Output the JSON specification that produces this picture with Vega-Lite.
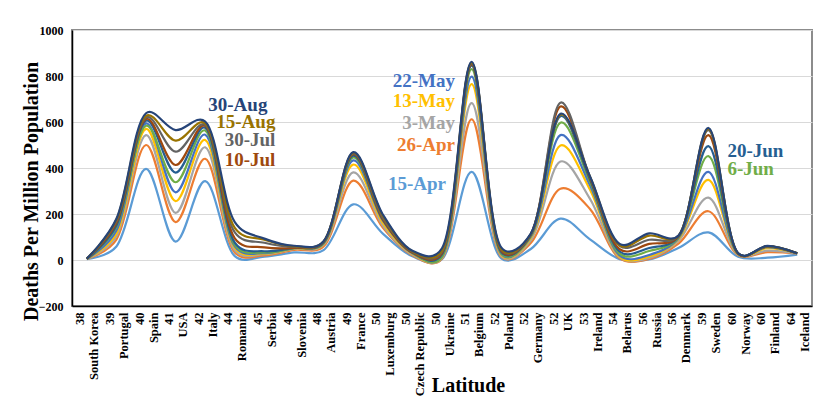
{
  "$schema": "https://vega.github.io/schema/vega-lite/v6.json",
  "width": 740,
  "height": 276,
  "autosize": {"type": "none"},
  "padding": {"left": 72, "top": 30, "right": 1, "bottom": 94},
  "background": "white",
  "config": {"view": {"stroke": "#8c8c8c", "strokeWidth": 2}, "font": "Liberation Serif"},
  "datasets": {
    "main": [
      {"c": "38|South Korea", "15-Apr": 4, "26-Apr": 5, "3-May": 5, "13-May": 5, "22-May": 5, "6-Jun": 5, "20-Jun": 5, "10-Jul": 6, "30-Jul": 6, "15-Aug": 6, "30-Aug": 6},
      {"c": "39|Portugal", "15-Apr": 59, "26-Apr": 89, "3-May": 104, "13-May": 115, "22-May": 128, "6-Jun": 144, "20-Jun": 150, "10-Jul": 161, "30-Jul": 169, "15-Aug": 175, "30-Aug": 179},
      {"c": "40|Spain", "15-Apr": 396, "26-Apr": 500, "3-May": 543, "13-May": 570, "22-May": 594, "6-Jun": 584, "20-Jun": 606, "10-Jul": 613, "30-Jul": 620, "15-Aug": 627, "30-Aug": 638},
      {"c": "41|USA", "15-Apr": 80, "26-Apr": 165, "3-May": 205, "13-May": 256, "22-May": 294, "6-Jun": 338, "20-Jun": 380, "10-Jul": 413, "30-Jul": 471, "15-Aug": 519, "30-Aug": 565},
      {"c": "42|Italy", "15-Apr": 343, "26-Apr": 440, "3-May": 490, "13-May": 522, "22-May": 545, "6-Jun": 563, "20-Jun": 575, "10-Jul": 583, "30-Jul": 588, "15-Aug": 594, "30-Aug": 602},
      {"c": "44|Romania", "15-Apr": 17, "26-Apr": 33, "3-May": 42, "13-May": 52, "22-May": 59, "6-Jun": 66, "20-Jun": 75, "10-Jul": 94, "30-Jul": 120, "15-Aug": 140, "30-Aug": 165},
      {"c": "45|Serbia", "15-Apr": 15, "26-Apr": 20, "3-May": 25, "13-May": 28, "22-May": 30, "6-Jun": 33, "20-Jun": 38, "10-Jul": 55, "30-Jul": 75, "15-Aug": 88, "30-Aug": 93},
      {"c": "46|Slovenia", "15-Apr": 33, "26-Apr": 44, "3-May": 48, "13-May": 50, "22-May": 52, "6-Jun": 52, "20-Jun": 53, "10-Jul": 53, "30-Jul": 58, "15-Aug": 60, "30-Aug": 62},
      {"c": "48|Austria", "15-Apr": 43, "26-Apr": 59, "3-May": 66, "13-May": 70, "22-May": 72, "6-Jun": 74, "20-Jun": 76, "10-Jul": 78, "30-Jul": 79, "15-Aug": 81, "30-Aug": 82},
      {"c": "49|France", "15-Apr": 242, "26-Apr": 345, "3-May": 381, "13-May": 415, "22-May": 433, "6-Jun": 446, "20-Jun": 454, "10-Jul": 460, "30-Jul": 463, "15-Aug": 466, "30-Aug": 469},
      {"c": "50|Luxemburg", "15-Apr": 115, "26-Apr": 141, "3-May": 150, "13-May": 161, "22-May": 172, "6-Jun": 176, "20-Jun": 177, "10-Jul": 178, "30-Jul": 184, "15-Aug": 193, "30-Aug": 198},
      {"c": "50|Czech Republic", "15-Apr": 16, "26-Apr": 21, "3-May": 24, "13-May": 27, "22-May": 29, "6-Jun": 31, "20-Jun": 32, "10-Jul": 33, "30-Jul": 36, "15-Aug": 38, "30-Aug": 40},
      {"c": "50|Ukraine", "15-Apr": 3, "26-Apr": 6, "3-May": 9, "13-May": 12, "22-May": 14, "6-Jun": 15, "20-Jun": 24, "10-Jul": 30, "30-Jul": 36, "15-Aug": 42, "30-Aug": 51},
      {"c": "51|Belgium", "15-Apr": 383, "26-Apr": 612, "3-May": 682, "13-May": 765, "22-May": 797, "6-Jun": 830, "20-Jun": 845, "10-Jul": 850, "30-Jul": 855, "15-Aug": 858, "30-Aug": 862},
      {"c": "52|Poland", "15-Apr": 7, "26-Apr": 15, "3-May": 18, "13-May": 23, "22-May": 27, "6-Jun": 30, "20-Jun": 35, "10-Jul": 40, "30-Jul": 45, "15-Aug": 49, "30-Aug": 55},
      {"c": "52|Germany", "15-Apr": 48, "26-Apr": 74, "3-May": 85, "13-May": 95, "22-May": 101, "6-Jun": 106, "20-Jun": 109, "10-Jul": 111, "30-Jul": 112, "15-Aug": 113, "30-Aug": 115},
      {"c": "52|UK", "15-Apr": 180, "26-Apr": 310, "3-May": 428, "13-May": 498, "22-May": 543, "6-Jun": 597, "20-Jun": 625, "10-Jul": 667, "30-Jul": 684, "15-Aug": 632, "30-Aug": 636},
      {"c": "53|Ireland", "15-Apr": 90, "26-Apr": 222, "3-May": 266, "13-May": 306, "22-May": 325, "6-Jun": 340, "20-Jun": 350, "10-Jul": 356, "30-Jul": 360, "15-Aug": 362, "30-Aug": 363},
      {"c": "54|Belarus", "15-Apr": 4, "26-Apr": 7, "3-May": 11, "13-May": 15, "22-May": 20, "6-Jun": 28, "20-Jun": 37, "10-Jul": 47, "30-Jul": 61, "15-Aug": 64, "30-Aug": 70},
      {"c": "56|Russia", "15-Apr": 2, "26-Apr": 5, "3-May": 9, "13-May": 15, "22-May": 22, "6-Jun": 39, "20-Jun": 52, "10-Jul": 70, "30-Jul": 88, "15-Aug": 106, "30-Aug": 116},
      {"c": "56|Denmark", "15-Apr": 53, "26-Apr": 72, "3-May": 85, "13-May": 92, "22-May": 97, "6-Jun": 101, "20-Jun": 104, "10-Jul": 105, "30-Jul": 106, "15-Aug": 107, "30-Aug": 108},
      {"c": "59|Sweden", "15-Apr": 120, "26-Apr": 212, "3-May": 271, "13-May": 348, "22-May": 383, "6-Jun": 452, "20-Jun": 495, "10-Jul": 543, "30-Jul": 565, "15-Aug": 570, "30-Aug": 574},
      {"c": "60|Norway", "15-Apr": 14, "26-Apr": 22, "3-May": 24, "13-May": 26, "22-May": 27, "6-Jun": 27, "20-Jun": 28, "10-Jul": 28, "30-Jul": 29, "15-Aug": 29, "30-Aug": 30},
      {"c": "60|Finland", "15-Apr": 10, "26-Apr": 34, "3-May": 41, "13-May": 51, "22-May": 56, "6-Jun": 58, "20-Jun": 59, "10-Jul": 59, "30-Jul": 60, "15-Aug": 60, "30-Aug": 61},
      {"c": "64|Iceland", "15-Apr": 23, "26-Apr": 29, "3-May": 29, "13-May": 29, "22-May": 29, "6-Jun": 29, "20-Jun": 29, "10-Jul": 29, "30-Jul": 29, "15-Aug": 29, "30-Aug": 29}
    ],
    "labA": [
      {"series": "15-Aug", "c": "45|Serbia", "value": 600},
      {"series": "30-Jul", "c": "45|Serbia", "value": 522},
      {"series": "10-Jul", "c": "45|Serbia", "value": 435}
    ],
    "labA2": [
      {"series": "30-Aug", "c": "45|Serbia", "value": 674}
    ],
    "labB": [
      {"series": "22-May", "c": "50|Ukraine", "value": 778},
      {"series": "13-May", "c": "50|Ukraine", "value": 691},
      {"series": "3-May", "c": "50|Ukraine", "value": 596},
      {"series": "26-Apr", "c": "50|Ukraine", "value": 500}
    ],
    "labB2": [
      {"series": "15-Apr", "c": "50|Ukraine", "value": 330}
    ],
    "labC": [
      {"series": "20-Jun", "c": "59|Sweden", "value": 474},
      {"series": "6-Jun", "c": "59|Sweden", "value": 396}
    ]
  },
  "encoding": {
    "x": {
      "field": "c", "type": "ordinal", "sort": null,
      "scale": {"type": "point", "padding": 0.5, "domain": ["38|South Korea", "39|Portugal", "40|Spain", "41|USA", "42|Italy", "44|Romania", "45|Serbia", "46|Slovenia", "48|Austria", "49|France", "50|Luxemburg", "50|Czech Republic", "50|Ukraine", "51|Belgium", "52|Poland", "52|Germany", "52|UK", "53|Ireland", "54|Belarus", "56|Russia", "56|Denmark", "59|Sweden", "60|Norway", "60|Finland", "64|Iceland"]},
      "axis": {
        "title": "Latitude", "titleFont": "Liberation Serif", "titleFontSize": 20, "titleFontWeight": "bold", "titleColor": "#000000",
        "titleX": 396, "titleY": 85, "titleBaseline": "alphabetic", "titleAlign": "center",
        "labelExpr": "split(datum.value, '|')", "labelAngle": 270, "labelFont": "Liberation Serif", "labelFontSize": 12.5, "labelFontWeight": "bold", "labelColor": "#000000", "labelLineHeight": 14, "labelPadding": 6, "labelOffset": -7, "labelOverlap": false,
        "ticks": false, "grid": false, "domainColor": "#000000", "domainWidth": 1.5
      }
    },
    "y": {
      "field": "value", "type": "quantitative",
      "scale": {"domain": [-200, 1000], "nice": false},
      "axis": {
        "values": [-200, 0, 200, 400, 600, 800, 1000], "format": "d",
        "title": "Deaths Per Million Population", "titleFont": "Liberation Serif", "titleFontSize": 20, "titleFontWeight": "bold", "titleColor": "#000000",
        "titleX": -41, "titleY": 161, "titleBaseline": "middle", "titleAlign": "center", "titleAngle": 270,
        "labelFont": "Liberation Serif", "labelFontSize": 12, "labelFontWeight": "bold", "labelColor": "#000000", "labelPadding": 9,
        "ticks": false, "grid": true, "gridColor": "#d9d9d9", "gridWidth": 1.2, "domainColor": "#000000", "domainWidth": 1.5
      }
    },
    "color": {
      "field": "series", "type": "nominal", "legend": null,
      "scale": {
        "domain": ["15-Apr", "26-Apr", "3-May", "13-May", "22-May", "6-Jun", "20-Jun", "10-Jul", "30-Jul", "15-Aug", "30-Aug"],
        "range": ["#5B9BD5", "#ED7D31", "#A5A5A5", "#FFC000", "#4472C4", "#70AD47", "#255E91", "#9E480E", "#636363", "#997300", "#264478"]
      }
    }
  },
  "layer": [
    {
      "data": {"name": "main"},
      "transform": [{"fold": ["15-Apr", "26-Apr", "3-May", "13-May", "22-May", "6-Jun", "20-Jun", "10-Jul", "30-Jul", "15-Aug", "30-Aug"], "as": ["series", "value"]}],
      "mark": {"type": "line", "interpolate": "catmull-rom", "tension": 0.3, "strokeWidth": 2.2}
    },
    {
      "data": {"name": "labA"},
      "mark": {"type": "text", "align": "right", "baseline": "middle", "dx": 11, "font": "Liberation Serif", "fontSize": 19, "fontWeight": "bold"},
      "encoding": {"text": {"field": "series"}}
    },
    {
      "data": {"name": "labA2"},
      "mark": {"type": "text", "align": "right", "baseline": "middle", "dx": 3, "font": "Liberation Serif", "fontSize": 19, "fontWeight": "bold"},
      "encoding": {"text": {"field": "series"}}
    },
    {
      "data": {"name": "labB"},
      "mark": {"type": "text", "align": "right", "baseline": "middle", "dx": 13, "font": "Liberation Serif", "fontSize": 19, "fontWeight": "bold"},
      "encoding": {"text": {"field": "series"}}
    },
    {
      "data": {"name": "labB2"},
      "mark": {"type": "text", "align": "right", "baseline": "middle", "dx": 4, "font": "Liberation Serif", "fontSize": 19, "fontWeight": "bold"},
      "encoding": {"text": {"field": "series"}}
    },
    {
      "data": {"name": "labC"},
      "mark": {"type": "text", "align": "left", "baseline": "middle", "dx": 19, "font": "Liberation Serif", "fontSize": 19, "fontWeight": "bold"},
      "encoding": {"text": {"field": "series"}}
    }
  ]
}
